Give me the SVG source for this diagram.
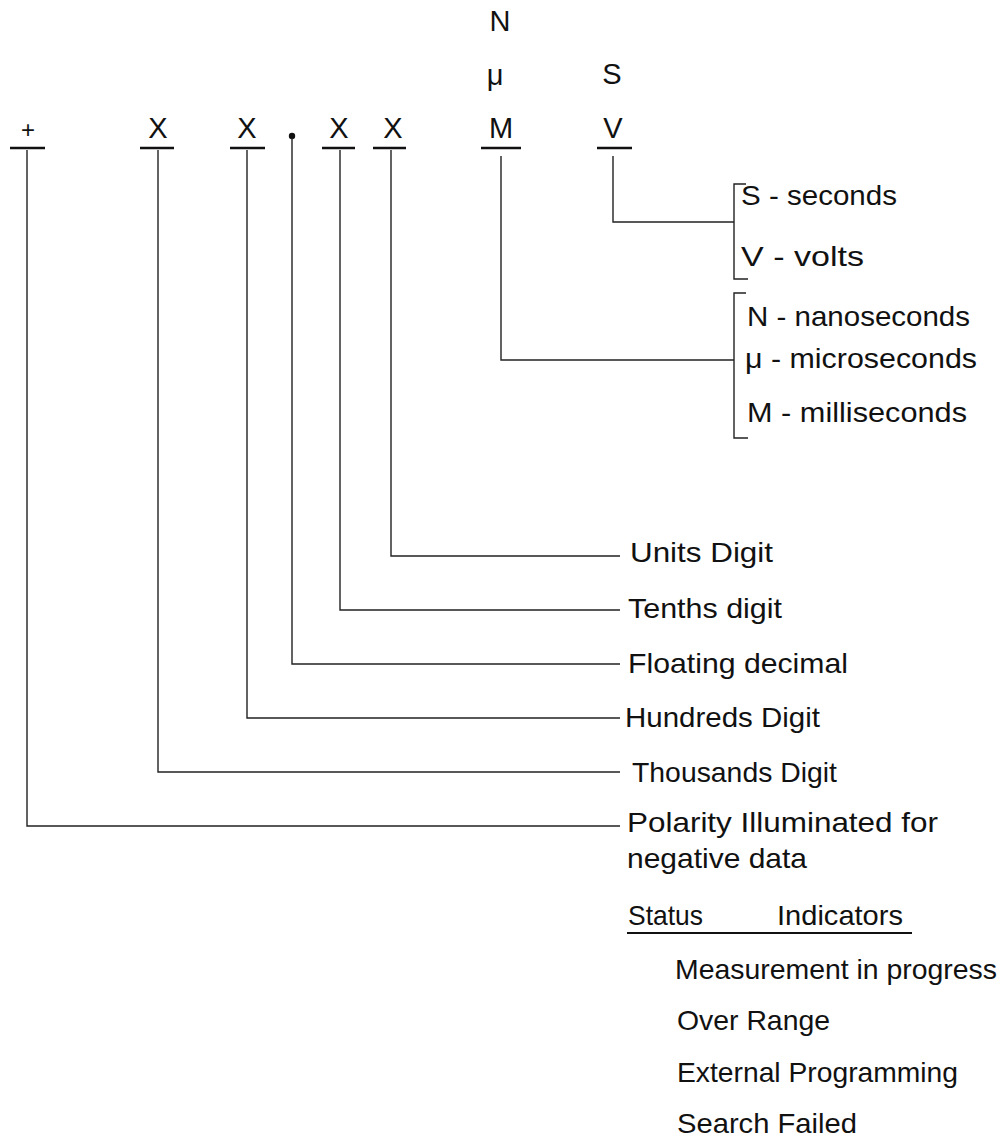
<svg xmlns="http://www.w3.org/2000/svg" width="1004" height="1146" viewBox="0 0 1004 1146">
  <style>
    text { font-family: "Liberation Sans", Arial, sans-serif; font-size: 28px; fill: #111; }
    .sym { font-size: 29px; text-anchor: middle; }
    .ul { stroke: #111; stroke-width: 2.5; fill: none; }
    .ln { stroke: #222; stroke-width: 1.4; fill: none; }
  </style>
  <rect width="1004" height="1146" fill="#fff"/>

  <g id="symbols">
    <g id="sym-plus"><text class="sym" x="28" y="138" style="font-size:24px">+</text><line class="ul" x1="10" y1="148" x2="45" y2="148"/></g>
    <g id="sym-x1"><text class="sym" x="158" y="138">X</text><line class="ul" x1="140" y1="148" x2="174" y2="148"/></g>
    <g id="sym-x2"><text class="sym" x="247" y="138">X</text><line class="ul" x1="230" y1="148" x2="265" y2="148"/></g>
    <g id="sym-dot"><circle cx="292" cy="136" r="3.2" fill="#111"/></g>
    <g id="sym-x3"><text class="sym" x="339" y="138">X</text><line class="ul" x1="322" y1="148" x2="355" y2="148"/></g>
    <g id="sym-x4"><text class="sym" x="393" y="138">X</text><line class="ul" x1="373" y1="148" x2="406" y2="148"/></g>
    <g id="sym-m">
      <text class="sym" x="500" y="31">N</text>
      <text class="sym" x="495" y="85">μ</text>
      <text class="sym" x="501" y="138">M</text>
      <line class="ul" x1="481" y1="148" x2="521" y2="148"/>
    </g>
    <g id="sym-v">
      <text class="sym" x="612" y="84">S</text>
      <text class="sym" x="613" y="138">V</text>
      <line class="ul" x1="597" y1="148" x2="632" y2="148"/>
    </g>
  </g>

  <g id="connectors">
    <path class="ln" d="M613 156 V222 H734"/>
    <path class="ln" d="M501 156 V360 H734"/>
    <path class="ln" d="M746 184 H734 V279 H748"/>
    <path class="ln" d="M746 293 H734 V438 H748"/>
    <path class="ln" d="M391 150 V556 H620"/>
    <path class="ln" d="M340 150 V610 H620"/>
    <path class="ln" d="M292 138 V664 H620"/>
    <path class="ln" d="M247 150 V718 H620"/>
    <path class="ln" d="M158 150 V772 H620"/>
    <path class="ln" d="M27 150 V826 H620"/>
  </g>

  <g id="unit-sv">
    <text x="741" y="205" textLength="156" lengthAdjust="spacingAndGlyphs">S - seconds</text>
    <text x="741" y="266" textLength="123" lengthAdjust="spacingAndGlyphs">V - volts</text>
  </g>
  <g id="unit-nmm">
    <text x="747" y="326" textLength="223" lengthAdjust="spacingAndGlyphs">N - nanoseconds</text>
    <text x="745" y="368" textLength="232" lengthAdjust="spacingAndGlyphs">μ  - microseconds</text>
    <text x="747" y="422" textLength="220" lengthAdjust="spacingAndGlyphs">M - milliseconds</text>
  </g>

  <g id="label-units"><text x="630" y="562" textLength="143" lengthAdjust="spacingAndGlyphs">Units Digit</text></g>
  <g id="label-tenths"><text x="628" y="618" textLength="154" lengthAdjust="spacingAndGlyphs">Tenths digit</text></g>
  <g id="label-decimal"><text x="628" y="673" textLength="220" lengthAdjust="spacingAndGlyphs">Floating decimal</text></g>
  <g id="label-hundreds"><text x="625" y="727" textLength="195" lengthAdjust="spacingAndGlyphs">Hundreds Digit</text></g>
  <g id="label-thousands"><text x="632" y="782" textLength="205" lengthAdjust="spacingAndGlyphs">Thousands Digit</text></g>
  <g id="label-polarity">
    <text x="627" y="832" textLength="311" lengthAdjust="spacingAndGlyphs">Polarity Illuminated for</text>
    <text x="627" y="868" textLength="180" lengthAdjust="spacingAndGlyphs">negative data</text>
  </g>

  <g id="status">
    <text x="628" y="925" textLength="75" lengthAdjust="spacingAndGlyphs">Status</text>
    <text x="777" y="925" textLength="126" lengthAdjust="spacingAndGlyphs">Indicators</text>
    <line x1="627" y1="933" x2="912" y2="933" stroke="#111" stroke-width="2.2"/>
    <text x="675" y="979" textLength="322" lengthAdjust="spacingAndGlyphs">Measurement in progress</text>
    <text x="677" y="1030" textLength="153" lengthAdjust="spacingAndGlyphs">Over Range</text>
    <text x="677" y="1082" textLength="281" lengthAdjust="spacingAndGlyphs">External Programming</text>
    <text x="677" y="1133" textLength="180" lengthAdjust="spacingAndGlyphs">Search Failed</text>
  </g>
</svg>
